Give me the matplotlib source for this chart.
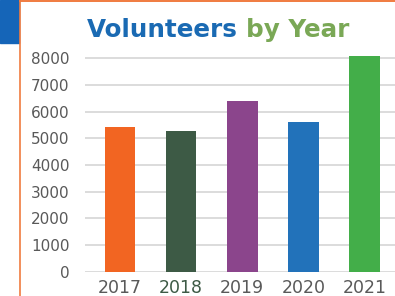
import matplotlib.pyplot as plt
from matplotlib.patches import Rectangle
from matplotlib.lines import Line2D

years = ["2017", "2018", "2019", "2020", "2021"]
volunteers = [5420, 5270, 6400, 5600, 8080]
bar_colors = ["#f26522", "#3d5a45", "#8b458c", "#2272ba", "#43ae49"]
yticks = [0, 1000, 2000, 3000, 4000, 5000, 6000, 7000, 8000]

W, H = 395, 296
fig = plt.figure(figsize=(W / 100, H / 100), dpi=100)

# frame decorations: blue block top-left, orange border lines
fig.patches.append(Rectangle((0, 1 - 42.5 / H), 18.5 / W, 42.5 / H, transform=fig.transFigure,
                             color="#1565b8", zorder=0))
fig.lines.append(Line2D([19.5 / W, 19.5 / W], [0, 1], transform=fig.transFigure,
                        color="#f07b3f", linewidth=1.2))
fig.lines.append(Line2D([19.5 / W, 1], [1 - 0.7 / H, 1 - 0.7 / H], transform=fig.transFigure,
                        color="#f07b3f", linewidth=1.4))

# axes placement (pixels)
left, right, y0, ytop = 85, 395, 271.7, 45
ax = fig.add_axes([left / W, 1 - y0 / H, (right - left) / W, (y0 - ytop) / H])

x = range(len(years))
ax.bar(x, volunteers, width=0.5, color=bar_colors, zorder=3)
ax.set_xlim(-0.575, 4.5)
ax.set_ylim(0, 8000 + (58.3 - ytop) / 26.67 * 1000)
ax.set_yticks(yticks)
ax.set_yticklabels([str(v) for v in yticks])
ax.set_xticks(list(x))
ax.set_xticklabels(years)
ax.grid(axis="y", color="#d9d9d9", linewidth=1.3, zorder=0)
for s in ax.spines.values():
    s.set_visible(False)
ax.tick_params(axis="y", length=0, pad=11, labelsize=11, labelcolor="#595959")
ax.tick_params(axis="x", length=0, pad=5, labelsize=12.5, labelcolor="#595959")
ax.get_xticklabels()[1].set_color("#3d5a45")

# two-colour title, sized so it spans about 262 px like the original
tsize = 16
base = 1 - 37.3 / H
t1 = fig.text(87 / W, base, "Volunteers ", fontsize=tsize, fontweight="bold",
              family="DejaVu Sans", color="#1a6ab3", va="baseline")
t2 = fig.text(0, base, "by Year", fontsize=tsize, fontweight="bold",
              family="DejaVu Sans", color="#7aa856", va="baseline")
fig.canvas.draw()
w = t1.get_window_extent().width + t2.get_window_extent().width
tsize = tsize * 262 / w
t1.set_fontsize(tsize)
t2.set_fontsize(tsize)
fig.canvas.draw()
t2.set_x(t1.get_window_extent().x1 / W)

plt.savefig("out.png", dpi=100)
